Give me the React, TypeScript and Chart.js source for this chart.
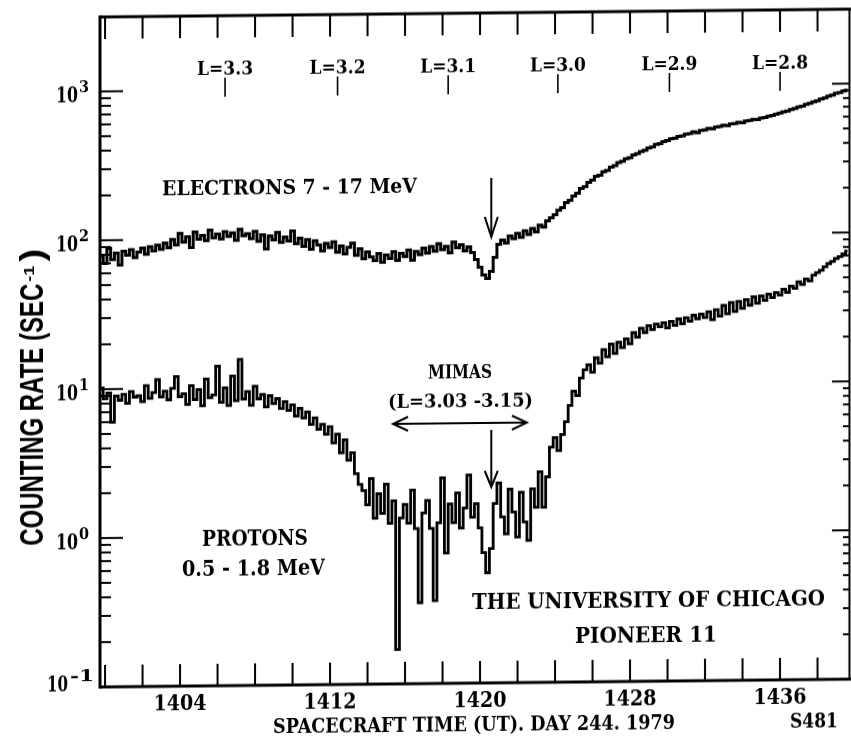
import React, { useEffect, useRef } from "react";
import { Chart, registerables } from "chart.js";

Chart.register(...registerables);

// ---------- data ----------
const TIME_START = 1399.8; // first time bin (min of day 244)
const TIME_STEP = 0.2; // bin width

const ELECTRONS = [
  78, 70, 88, 74, 82, 68, 84, 79, 86, 76,
  83, 88, 80, 90, 84, 92, 86, 95, 88, 100,
  92, 110, 96, 104, 88, 112, 100, 106, 98, 115,
  102, 108, 100, 112, 104, 110, 98, 116, 105, 108,
  100, 112, 96, 106, 85, 104, 98, 110, 94, 102,
  96, 112, 92, 100, 88, 98, 84, 96, 90, 82,
  92, 86, 94, 80, 88, 78, 86, 92, 76, 84,
  72, 80, 74, 70, 78, 68, 76, 72, 80, 70,
  78, 74, 82, 70, 80, 76, 84, 78, 86, 80,
  90, 82, 86, 78, 92, 84, 88, 80, 85, 78,
  70, 62, 55, 52, 58, 72, 88, 94, 90, 100,
  96, 104, 98, 108, 102, 112, 106, 118, 114, 126,
  132, 138, 148, 154, 166, 172, 184, 192, 206, 212,
  226, 234, 248, 252, 266, 272, 286, 292, 306, 312,
  324, 330, 344, 350, 362, 368, 382, 388, 402, 408,
  420, 426, 438, 442, 454, 458, 470, 474, 486, 480,
  496, 500, 512, 508, 522, 526, 536, 532, 546, 548,
  560, 556, 570, 574, 584, 582, 596, 600, 612, 618,
  630, 640, 652, 660, 676, 686, 702, 712, 730, 742,
  760, 772, 792, 806, 826, 838, 862, 872, 894, 905,
];

const PROTONS = [
  10.2, 8.6, 9.4, 6.0, 9.0, 8.4, 9.2, 8.0, 9.6, 8.8,
  9.0, 8.2, 10.5, 8.6, 9.4, 11.5, 8.8, 9.6, 8.4, 10.0,
  12.0, 8.8, 9.2, 7.8, 10.4, 8.4, 9.8, 7.6, 11.5, 8.6,
  9.0, 14.0, 8.0, 10.0, 7.6, 12.0, 8.2, 15.5, 8.4, 9.4,
  7.6, 10.2, 8.4, 9.0, 7.4, 8.8, 7.8, 8.4, 7.2, 8.0,
  7.0, 7.6, 6.4, 7.2, 6.2, 6.8, 5.6, 6.2, 5.2, 5.6,
  4.8, 5.4, 4.2, 4.8, 3.6, 4.4, 3.2, 3.6, 2.6, 2.2,
  2.0, 1.6, 2.4, 1.3, 1.9, 1.4, 2.2, 1.2, 1.7, 0.17,
  1.3, 1.6, 1.2, 2.0, 1.1, 0.35, 1.4, 1.7, 1.1, 0.36,
  1.2, 2.4, 0.75, 1.6, 1.2, 1.9, 1.1, 1.5, 2.5, 1.3,
  1.6, 1.1, 0.75, 0.55, 0.8, 1.6, 2.2, 1.3, 1.0, 2.0,
  1.4, 0.95, 1.9, 1.2, 0.9, 2.0, 1.5, 2.6, 1.5, 2.4,
  3.8, 4.4, 3.6, 4.6, 5.6, 7.2, 9.0, 8.4, 11.0, 12.5,
  13.5, 12.0, 15.0, 13.8, 17.0, 15.2, 18.5, 16.0, 19.0, 17.5,
  20.0, 18.5, 22.0, 20.5, 23.5, 22.0, 24.5, 23.0, 25.0, 24.0,
  25.5, 23.5, 26.0, 24.5, 27.0, 25.0, 27.5, 26.0, 28.5, 27.0,
  29.0, 27.5, 30.0, 26.5, 31.0, 28.0, 33.0, 29.0, 34.5, 30.0,
  35.0, 31.5, 36.0, 33.0, 37.5, 34.0, 38.0, 35.5, 39.0, 37.0,
  40.0, 38.5, 42.0, 40.0, 44.0, 42.5, 47.0, 45.0, 49.0, 47.5,
  52.0, 54.0, 56.0, 59.0, 62.0, 64.0, 67.0, 69.0, 72.0, 75.0,
];

const X_MIN = 1399.73;
const X_MAX = 1439.73;
const Y_MIN = 0.1;
const Y_MAX = 3162.3;

const X_TICKS = [1400, 1402, 1404, 1406, 1408, 1410, 1412, 1414, 1416, 1418, 1420, 1422, 1424, 1426, 1428, 1430, 1432, 1434, 1436, 1438];
const X_TICK_LABELS = [1404, 1412, 1420, 1428, 1436];
const Y_DECADES = [-1, 0, 1, 2, 3];
const Y_DECADE_LABELS = ["-1", "0", "1", "2", "3"];

const L_LABELS = ["L=3.3", "L=3.2", "L=3.1", "L=3.0", "L=2.9", "L=2.8"];
const L_TIMES = [1406.4, 1412.4, 1418.3, 1424.15, 1430.1, 1436.0];

const MIMAS_TIME = 1420.6;
const MIMAS_SPAN = [1415.36, 1422.5];

const SERIF = '"DejaVu Serif", serif';
const SANS = '"Liberation Sans", Arial, sans-serif';

function fitText(ctx: CanvasRenderingContext2D, text: string, left: number, baseline: number, width: number, size: number, family: string) {
  ctx.save();
  ctx.font = `bold ${size}px ${family}`;
  ctx.textAlign = "left";
  ctx.textBaseline = "alphabetic";
  const w = ctx.measureText(text).width || 1;
  ctx.translate(left, baseline);
  ctx.scale(width / w, 1);
  ctx.fillText(text, 0, 0);
  ctx.restore();
}

function line(ctx: CanvasRenderingContext2D, x1: number, y1: number, x2: number, y2: number) {
  ctx.beginPath();
  ctx.moveTo(x1, y1);
  ctx.lineTo(x2, y2);
  ctx.stroke();
}

function head(ctx: CanvasRenderingContext2D, tx: number, ty: number, dx: number, dy: number, len: number, half: number) {
  const px = -dy, py = dx;
  ctx.beginPath();
  ctx.moveTo(tx - dx * len + px * half, ty - dy * len + py * half);
  ctx.lineTo(tx, ty);
  ctx.lineTo(tx - dx * len - px * half, ty - dy * len - py * half);
  ctx.stroke();
}

const decorPlugin = {
  id: "decor",
  beforeDraw(chart: any) {
    const ctx = chart.ctx as CanvasRenderingContext2D;
    ctx.save();
    ctx.fillStyle = "#fff";
    ctx.fillRect(0, 0, chart.width, chart.height);
    ctx.restore();
  },
  afterDraw(chart: any) {
    const ctx = chart.ctx as CanvasRenderingContext2D;
    const xs = chart.scales.x;
    const ys = chart.scales.y;
    const { left, right, top, bottom } = chart.chartArea;
    ctx.save();
    ctx.strokeStyle = "#000";
    ctx.fillStyle = "#000";
    ctx.lineCap = "butt";

    // frame
    ctx.lineWidth = 3;
    line(ctx, left, top, right + 2, top);
    line(ctx, left, top - 1.5, left, bottom + 1.5);
    line(ctx, left, bottom, right + 2, bottom);
    ctx.lineWidth = 2;
    line(ctx, right - 0.5, top, right - 0.5, bottom);

    // x ticks (top and bottom, inward)
    ctx.lineWidth = 2;
    X_TICKS.forEach((t) => {
      const x = xs.getPixelForValue(t);
      line(ctx, x, bottom, x, bottom - 22);
      line(ctx, x, top, x, top + 22);
    });

    // y ticks (left and right, inward)
    Y_DECADES.forEach((d) => {
      const y = ys.getPixelForValue(Math.pow(10, d));
      line(ctx, left, y, left + 23, y);
      line(ctx, right, y, right - 18, y);
      if (d < 3) {
        for (let m = 2; m <= 9; m++) {
          const ym = ys.getPixelForValue(m * Math.pow(10, d));
          line(ctx, left, ym, left + 11, ym);
          line(ctx, right, ym, right - 7, ym);
        }
      }
    });

    // y tick labels
    Y_DECADES.forEach((d, i) => {
      const y = ys.getPixelForValue(Math.pow(10, d));
      if (d === -1) {
        fitText(ctx, "10", 47, y + 4, 21, 23, SERIF);
        fitText(ctx, Y_DECADE_LABELS[i], 70, y - 6, 24, 16, SERIF);
      } else {
        fitText(ctx, "10", 56, y + 11, 22, 23, SERIF);
        fitText(ctx, Y_DECADE_LABELS[i], 79, y + 1, 10, 16, SERIF);
      }
    });

    // x tick labels
    X_TICK_LABELS.forEach((t) => {
      const x = xs.getPixelForValue(t);
      fitText(ctx, String(t), x - 26.5, 711, 53, 22, SERIF);
    });

    // L-shell markers
    ctx.lineWidth = 1.6;
    L_LABELS.forEach((lab, i) => {
      const x = xs.getPixelForValue(L_TIMES[i]);
      fitText(ctx, lab, x - 28, 76, 56, 18, SERIF);
      line(ctx, x, 79, x, 98);
    });

    // electron annotations
    fitText(ctx, "ELECTRONS 7 - 17 MeV", 162, 196, 255, 20, SERIF);
    const ax = xs.getPixelForValue(MIMAS_TIME);
    ctx.lineWidth = 2;
    line(ctx, ax, 182, ax, 240);
    head(ctx, ax, 241, 0, 1, 20, 6.5);

    // Mimas annotations
    fitText(ctx, "MIMAS", 428, 382, 64, 18, SERIF);
    fitText(ctx, "(L=3.03 -3.15)", 388, 411, 145, 19, SERIF);
    const x1 = xs.getPixelForValue(MIMAS_SPAN[0]);
    const x2 = xs.getPixelForValue(MIMAS_SPAN[1]);
    line(ctx, x1, 427, x2, 427);
    head(ctx, x1, 427, -1, 0, 15, 7);
    head(ctx, x2, 427, 1, 0, 15, 7);
    line(ctx, ax, 434, ax, 490);
    head(ctx, ax, 491, 0, 1, 16, 6.5);

    // proton annotations
    fitText(ctx, "PROTONS", 202, 547, 106, 22, SERIF);
    fitText(ctx, "0.5 - 1.8 MeV", 182, 577, 143, 22, SERIF);

    // credit
    fitText(ctx, "THE UNIVERSITY OF CHICAGO", 472, 613, 353, 22, SERIF);
    fitText(ctx, "PIONEER 11", 575, 648, 142, 22, SERIF);

    // axis titles
    fitText(ctx, "SPACECRAFT TIME (UT). DAY 244. 1979", 273, 735, 402, 21, SERIF);
    fitText(ctx, "S481", 790, 735, 48, 21, SERIF);

    ctx.save();
    ctx.translate(43, 545);
    ctx.rotate(-Math.PI / 2);
    fitText(ctx, "COUNTING RATE (SEC", 0, 0, 262, 33, SANS);
    fitText(ctx, "-1", 264, -9, 16, 15, SANS);
    fitText(ctx, ")", 284, 0, 13, 33, SANS);
    ctx.restore();

    ctx.restore();
  },
};

export default function App() {
  const ref = useRef<HTMLCanvasElement>(null);
  useEffect(() => {
    const toPoints = (vals: number[]) => vals.map((v, i) => ({ x: TIME_START + i * TIME_STEP, y: v }));
    const chart = new Chart(ref.current as HTMLCanvasElement, {
      type: "line",
      data: {
        datasets: [
          {
            label: "ELECTRONS 7-17 MeV",
            data: toPoints(ELECTRONS),
            borderColor: "#000",
            borderWidth: 3,
            pointRadius: 0,
            stepped: "middle",
            fill: false,
          },
          {
            label: "PROTONS 0.5-1.8 MeV",
            data: toPoints(PROTONS),
            borderColor: "#000",
            borderWidth: 2.8,
            pointRadius: 0,
            stepped: "middle",
            fill: false,
          },
        ],
      } as any,
      options: {
        responsive: false,
        animation: false,
        devicePixelRatio: 1,
        layout: { padding: { left: 100, top: 17, right: 1, bottom: 58 } },
        plugins: { legend: { display: false }, tooltip: { enabled: false } },
        scales: {
          x: { type: "linear", min: X_MIN, max: X_MAX, display: false },
          y: { type: "logarithmic", min: Y_MIN, max: Y_MAX, display: false },
        },
      } as any,
      plugins: [decorPlugin as any],
    });
    return () => chart.destroy();
  }, []);
  return (
    <div style={{ position: "absolute", left: 0, top: 0, width: 851, height: 745, overflow: "hidden", background: "#fff" }}>
      <canvas
        ref={ref}
        width={851}
        height={745}
        style={{ display: "block", width: 851, height: 745, transform: "skewY(-0.6deg)", transformOrigin: "100px 0px" }}
      />
    </div>
  );
}
